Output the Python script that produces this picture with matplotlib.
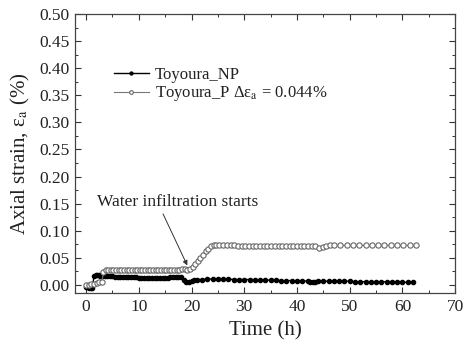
import matplotlib
matplotlib.use("Agg")
import matplotlib.pyplot as plt
from matplotlib.ticker import MultipleLocator

plt.rcParams['font.family'] = ['Liberation Serif', 'DejaVu Serif']
plt.rcParams['mathtext.fontset'] = 'stix'

# Toyoura_NP (filled markers)
t_np = [0.0, 0.3, 0.6, 0.9, 1.2, 1.5, 1.8, 2.1, 2.4, 2.7, 3.0, 3.5, 4.0, 4.5, 5.0, 5.5, 6.0,
        6.5, 7.0, 7.5, 8.0, 8.5, 9.0, 9.5, 10.0, 10.5, 11.0, 11.5, 12.0, 12.5, 13.0, 13.5,
        14.0, 14.5, 15.0, 15.5, 16.0, 16.5, 17.0, 17.5, 18.0, 18.5, 19.0, 19.5, 20.0, 20.5,
        21.0, 22.0, 23.0, 24.0, 25.0, 26.0, 27.0, 28.0, 29.0, 30.0, 31.0, 32.0, 33.0, 34.0,
        35.0, 36.0, 37.0, 38.0, 39.0, 40.0, 41.0, 42.0, 42.5, 43.0, 43.5, 44.0, 45.0, 46.0,
        47.0, 48.0, 49.0, 50.0, 51.0, 52.0, 53.0, 54.0, 55.0, 56.0, 57.0, 58.0, 59.0, 60.0,
        61.0, 62.0]
e_np = [-0.003, -0.004, -0.005, -0.005, -0.005, 0.016, 0.018, 0.018, 0.018, 0.017, 0.017,
        0.017, 0.016, 0.016, 0.016, 0.015, 0.015, 0.015, 0.015, 0.014, 0.014, 0.014, 0.014,
        0.014, 0.013, 0.013, 0.013, 0.013, 0.013, 0.013, 0.012, 0.012, 0.012, 0.012, 0.012,
        0.012, 0.015, 0.015, 0.015, 0.015, 0.014, 0.010, 0.006, 0.005, 0.008, 0.010, 0.010,
        0.010, 0.011, 0.011, 0.011, 0.011, 0.011, 0.010, 0.010, 0.010, 0.010, 0.009, 0.009,
        0.009, 0.009, 0.009, 0.008, 0.008, 0.008, 0.008, 0.008, 0.007, 0.006, 0.005, 0.006,
        0.007, 0.007, 0.007, 0.007, 0.007, 0.007, 0.007, 0.006, 0.006, 0.006, 0.006, 0.006,
        0.006, 0.006, 0.005, 0.005, 0.005, 0.005, 0.005]

# Toyoura_P (open markers)
t_p = [0.0, 0.5, 1.0, 1.5, 2.0, 2.5, 3.0, 3.3, 3.7, 4.2, 4.7, 5.2, 5.7, 6.2, 6.7, 7.2, 7.7,
       8.2, 8.7, 9.2, 9.7, 10.2, 10.7, 11.2, 11.7, 12.2, 12.7, 13.2, 13.7, 14.2, 14.7, 15.2,
       15.7, 16.2, 16.7, 17.2, 17.7, 18.2, 18.7, 19.2, 19.7, 20.2, 20.7, 21.2, 21.7, 22.2,
       22.7, 23.2, 23.7, 24.2, 24.7, 25.3, 26.0, 26.7, 27.4, 28.1, 28.8, 29.5, 30.2, 30.9,
       31.6, 32.3, 33.0, 33.7, 34.4, 35.1, 35.8, 36.5, 37.2, 37.9, 38.6, 39.3, 40.0, 40.7,
       41.4, 42.1, 42.8, 43.5, 44.2, 44.9, 45.6, 46.3, 47.0, 48.2, 49.4, 50.6, 51.8, 53.0,
       54.2, 55.4, 56.6, 57.8, 59.0, 60.2, 61.4, 62.6]
e_p = [0.000, 0.000, 0.001, 0.001, 0.004, 0.005, 0.005, 0.024, 0.027, 0.028, 0.028, 0.028,
       0.028, 0.028, 0.028, 0.028, 0.028, 0.028, 0.028, 0.028, 0.028, 0.028, 0.028, 0.028,
       0.028, 0.028, 0.028, 0.028, 0.028, 0.028, 0.028, 0.028, 0.028, 0.028, 0.028, 0.028,
       0.028, 0.029, 0.029, 0.027, 0.029, 0.033, 0.038, 0.044, 0.050, 0.056, 0.062, 0.067,
       0.071, 0.073, 0.074, 0.074, 0.074, 0.074, 0.073, 0.073, 0.072, 0.072, 0.072, 0.072,
       0.072, 0.072, 0.072, 0.072, 0.072, 0.072, 0.072, 0.072, 0.072, 0.072, 0.072, 0.072,
       0.072, 0.072, 0.072, 0.072, 0.072, 0.071, 0.069, 0.070, 0.072, 0.073, 0.073, 0.073,
       0.073, 0.073, 0.073, 0.073, 0.073, 0.073, 0.073, 0.073, 0.073, 0.073, 0.073, 0.073]

x_ticks = [0, 10, 20, 30, 40, 50, 60, 70]
y_ticks = [0.00, 0.05, 0.10, 0.15, 0.20, 0.25, 0.30, 0.35, 0.40, 0.45, 0.50]

fig = plt.figure(figsize=(4.63, 3.51), dpi=100)
ax = fig.add_axes([0.162, 0.165, 0.821, 0.795])

ax.plot(t_np, e_np, color='black', lw=1.0, marker='o', ms=3.0,
        markerfacecolor='black', markeredgecolor='black', label='Toyoura_NP')
ax.plot(t_p, e_p, color='#777777', lw=0.8, marker='o', ms=3.8,
        markerfacecolor='white', markeredgecolor='#666666', markeredgewidth=0.8,
        label='Toyoura_P Δε$_\\mathrm{a}$ = 0.044%')

ax.set_xlim(-2.1, 70)
ax.set_ylim(-0.015, 0.5)
ax.set_xticks(x_ticks)
ax.set_yticks(y_ticks)
ax.set_xticklabels([str(v) for v in x_ticks])
ax.set_yticklabels([f'{v:.2f}' for v in y_ticks])
ax.xaxis.set_minor_locator(MultipleLocator(5))
ax.yaxis.set_minor_locator(MultipleLocator(0.025))
ax.tick_params(which='both', direction='in', top=True, right=True, labelsize=12.5,
               colors='#333333', labelcolor='#222222')
ax.tick_params(which='major', length=4, width=0.8, pad=4)
ax.tick_params(which='minor', length=2.2, width=0.7)
for s in ax.spines.values():
    s.set_color('#444444')
    s.set_linewidth(0.9)

ax.set_xlabel('Time (h)', fontsize=15, color='#222222', labelpad=5)
ax.set_ylabel('Axial strain, ε$_\\mathrm{a}$ (%)', fontsize=15, color='#222222', labelpad=5)

ax.annotate('Water infiltration starts', xy=(19.2, 0.036), xytext=(2.0, 0.146),
            fontsize=12.5, color='#222222',
            arrowprops=dict(arrowstyle='-|>', color='#333333', lw=0.7,
                            shrinkA=1, shrinkB=0, mutation_scale=7,
                            relpos=(0.4, 0.0)))

leg = ax.legend(loc='upper left', bbox_to_anchor=(0.085, 0.835), frameon=False,
                fontsize=12, handlelength=2.1, borderaxespad=0, handletextpad=0.35,
                labelspacing=0.1, markerscale=0.7)
for txt in leg.get_texts():
    txt.set_color('#222222')

fig.savefig('out.png', dpi=100)
